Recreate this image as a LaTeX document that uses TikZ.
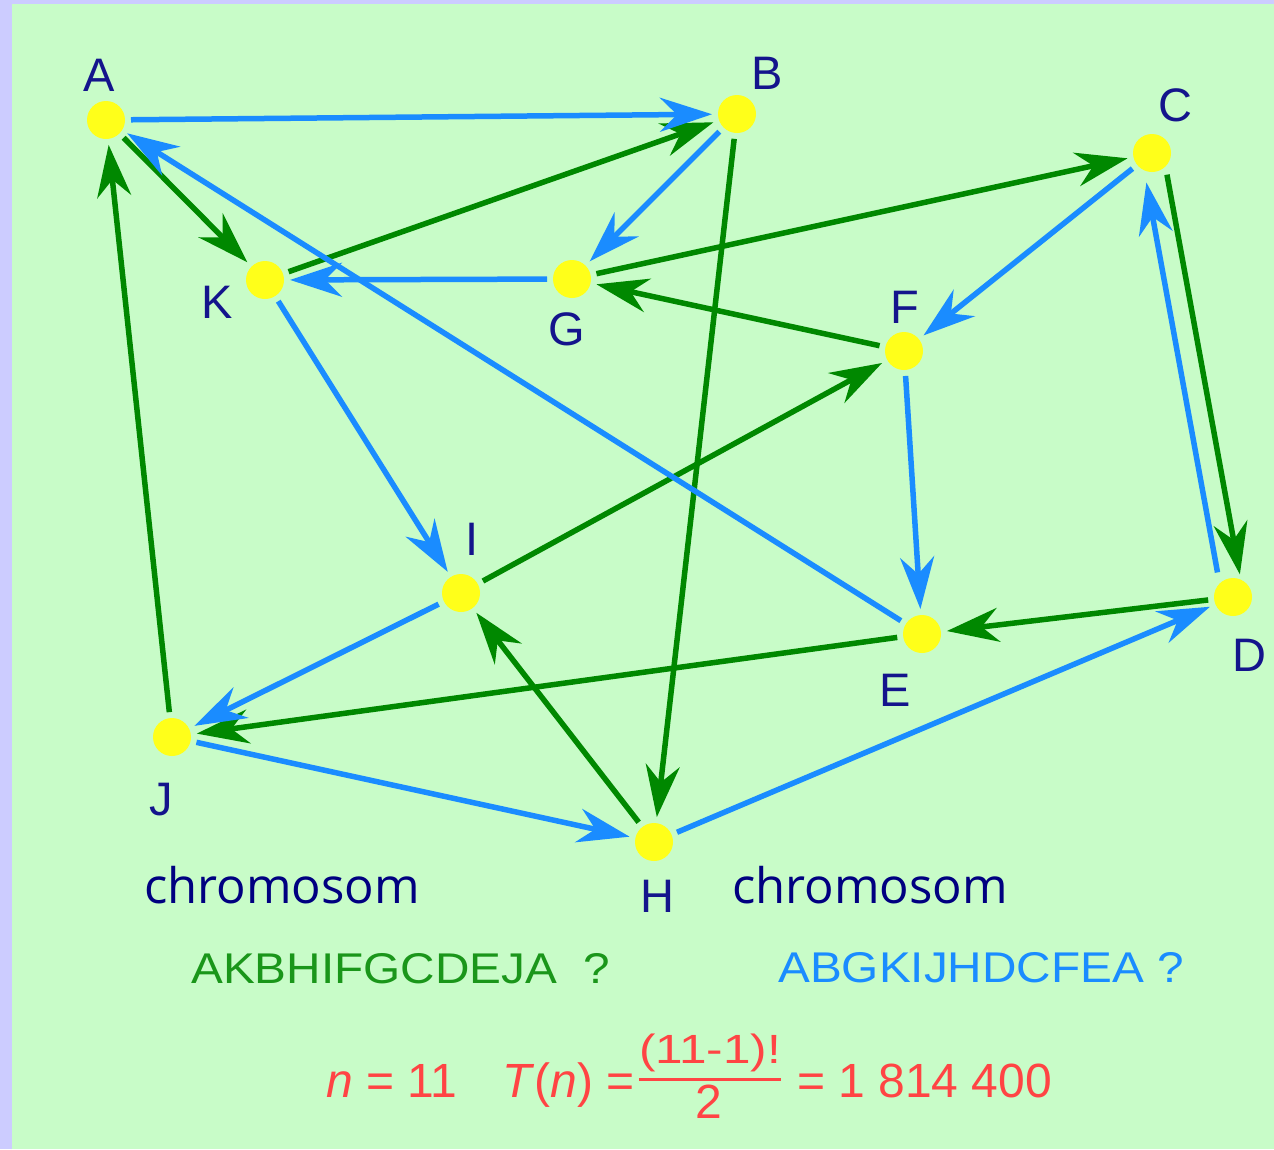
\documentclass[tikz,border=0pt]{standalone}
\usepackage{fontspec}
\usepackage{graphicx}
\setmainfont{Liberation Sans}
\newfontfamily\chromfont{Open Sans}
\usetikzlibrary{arrows.meta}
\definecolor{bgout}{HTML}{CCCCFF}
\definecolor{bgin}{HTML}{C8FCC8}
\definecolor{nodey}{HTML}{FFFF1A}
\definecolor{lbl}{HTML}{14148C}
\definecolor{gedge}{HTML}{008800}
\definecolor{bedge}{HTML}{1A8CFF}
\definecolor{gtext}{HTML}{1A961A}
\definecolor{rtext}{HTML}{FF4444}
\definecolor{navyc}{HTML}{000080}
\tikzset{
  vert/.style={circle, fill=nodey, minimum size=38pt, inner sep=0pt, outer sep=6pt},
  lab/.style={text=lbl, font=\fontsize{47}{47}\selectfont, inner sep=0pt},
  tipS/.style={-{Stealth[length=52pt,width=34pt,inset=17pt]}},
  gE/.style={draw=gedge, line width=5.5pt, tipS},
  bE/.style={draw=bedge, line width=5.5pt, tipS},
  chrom/.style={text=navyc, font=\chromfont\fontsize{49}{49}\selectfont, inner sep=0pt, anchor=base west},
  seqtxt/.style={font=\fontsize{43}{43}\selectfont, inner sep=0pt, anchor=base west},
  formula/.style={text=rtext, font=\fontsize{48}{48}\selectfont, inner sep=0pt},
}
\begin{document}
\begin{tikzpicture}[x=1pt, y=-1pt]
\fill[bgout] (0,0) rectangle (1274,1149);
\fill[bgin] (12,4) rectangle (1274,1149);
% vertices
\node[vert] (A) at (106,120) {};
\node[vert] (B) at (737,114) {};
\node[vert] (C) at (1152,153) {};
\node[vert] (D) at (1233,597) {};
\node[vert] (E) at (922,634) {};
\node[vert] (F) at (904,351) {};
\node[vert] (G) at (572,279) {};
\node[vert] (H) at (654,842) {};
\node[vert] (I) at (461,593) {};
\node[vert] (J) at (172,737) {};
\node[vert] (K) at (265,280) {};
% labels
\node[lab] (lA) at (99,75) {A};
\node[lab] (lB) at (767,73) {B};
\node[lab] (lC) at (1175,105) {C};
\node[lab] (lD) at (1249,655) {D};
\node[lab] (lE) at (895,690) {E};
\node[lab] (lF) at (905,307) {F};
\node[lab] (lG) at (567,329) {G};
\node[lab] (lH) at (657,896) {H};
\node[lab] (lI) at (472,539) {I};
\node[lab] (lJ) at (161,800) {J};
\node[lab] (lK) at (217,302) {K};
% green cycle AKBHIFGCDEJA
\draw[gE] (A) -- (K);
\draw[gE] (K) -- (B);
\draw[gE] (B) -- (H);
\draw[gE] (H) -- (I);
\draw[gE] (I) -- (F);
\draw[gE] (F) -- (G);
\draw[gE] (G) -- (C);
\draw[gE, shorten <=22pt, shorten >=23pt] ([xshift=11pt]C.center) -- ([xshift=11pt]D.center);
\draw[gE] (D) -- (E);
\draw[gE] (E) -- (J);
\draw[gE] (J) -- (A);
% blue cycle ABGKIJHDCFEA
\draw[bE] (A) -- (B);
\draw[bE] (B) -- (G);
\draw[bE] (G) -- (K);
\draw[bE] (K) -- (I);
\draw[bE] (I) -- (J);
\draw[bE] (J) -- (H);
\draw[bE] (H) -- (D);
\draw[bE, shorten <=25pt, shorten >=30pt] ([xshift=-11pt]D.center) -- ([xshift=-11pt]C.center);
\draw[bE] (C) -- (F);
\draw[bE] (F) -- (E);
\draw[bE] (E) -- (A);
% texts
\node[chrom] (ch1) at (144,903) {chromosom};
\node[chrom] (ch2) at (732,903) {chromosom};
\node[seqtxt, text=gtext] (s1) at (191,983) {\scalebox{1.11}[1]{AKBHIFGCDEJA\ \ ?}};
\node[seqtxt, text=bedge] (s2) at (778,982) {\scalebox{1.11}[1]{ABGKIJHDCFEA ?}};
\node[formula, anchor=base west] (f1) at (326,1097) {\textit{n} = 11};
\node[formula, anchor=base west] (f2) at (502,1097) {\textit{T}(\textit{n}) =};
\node[formula, anchor=base] (num) at (710,1063) {\scalebox{1.03}[0.85]{(11-1)!}};
\node[formula, anchor=base] (den) at (709,1118) {2};
\draw[rtext, line width=3pt] (num.south west |- 0,1079) coordinate (bl) -- (num.south east |- 0,1079) coordinate (br);
\node[formula, anchor=base west] (f3) at (797,1097) {= 1 814 400};
\end{tikzpicture}
\end{document}
